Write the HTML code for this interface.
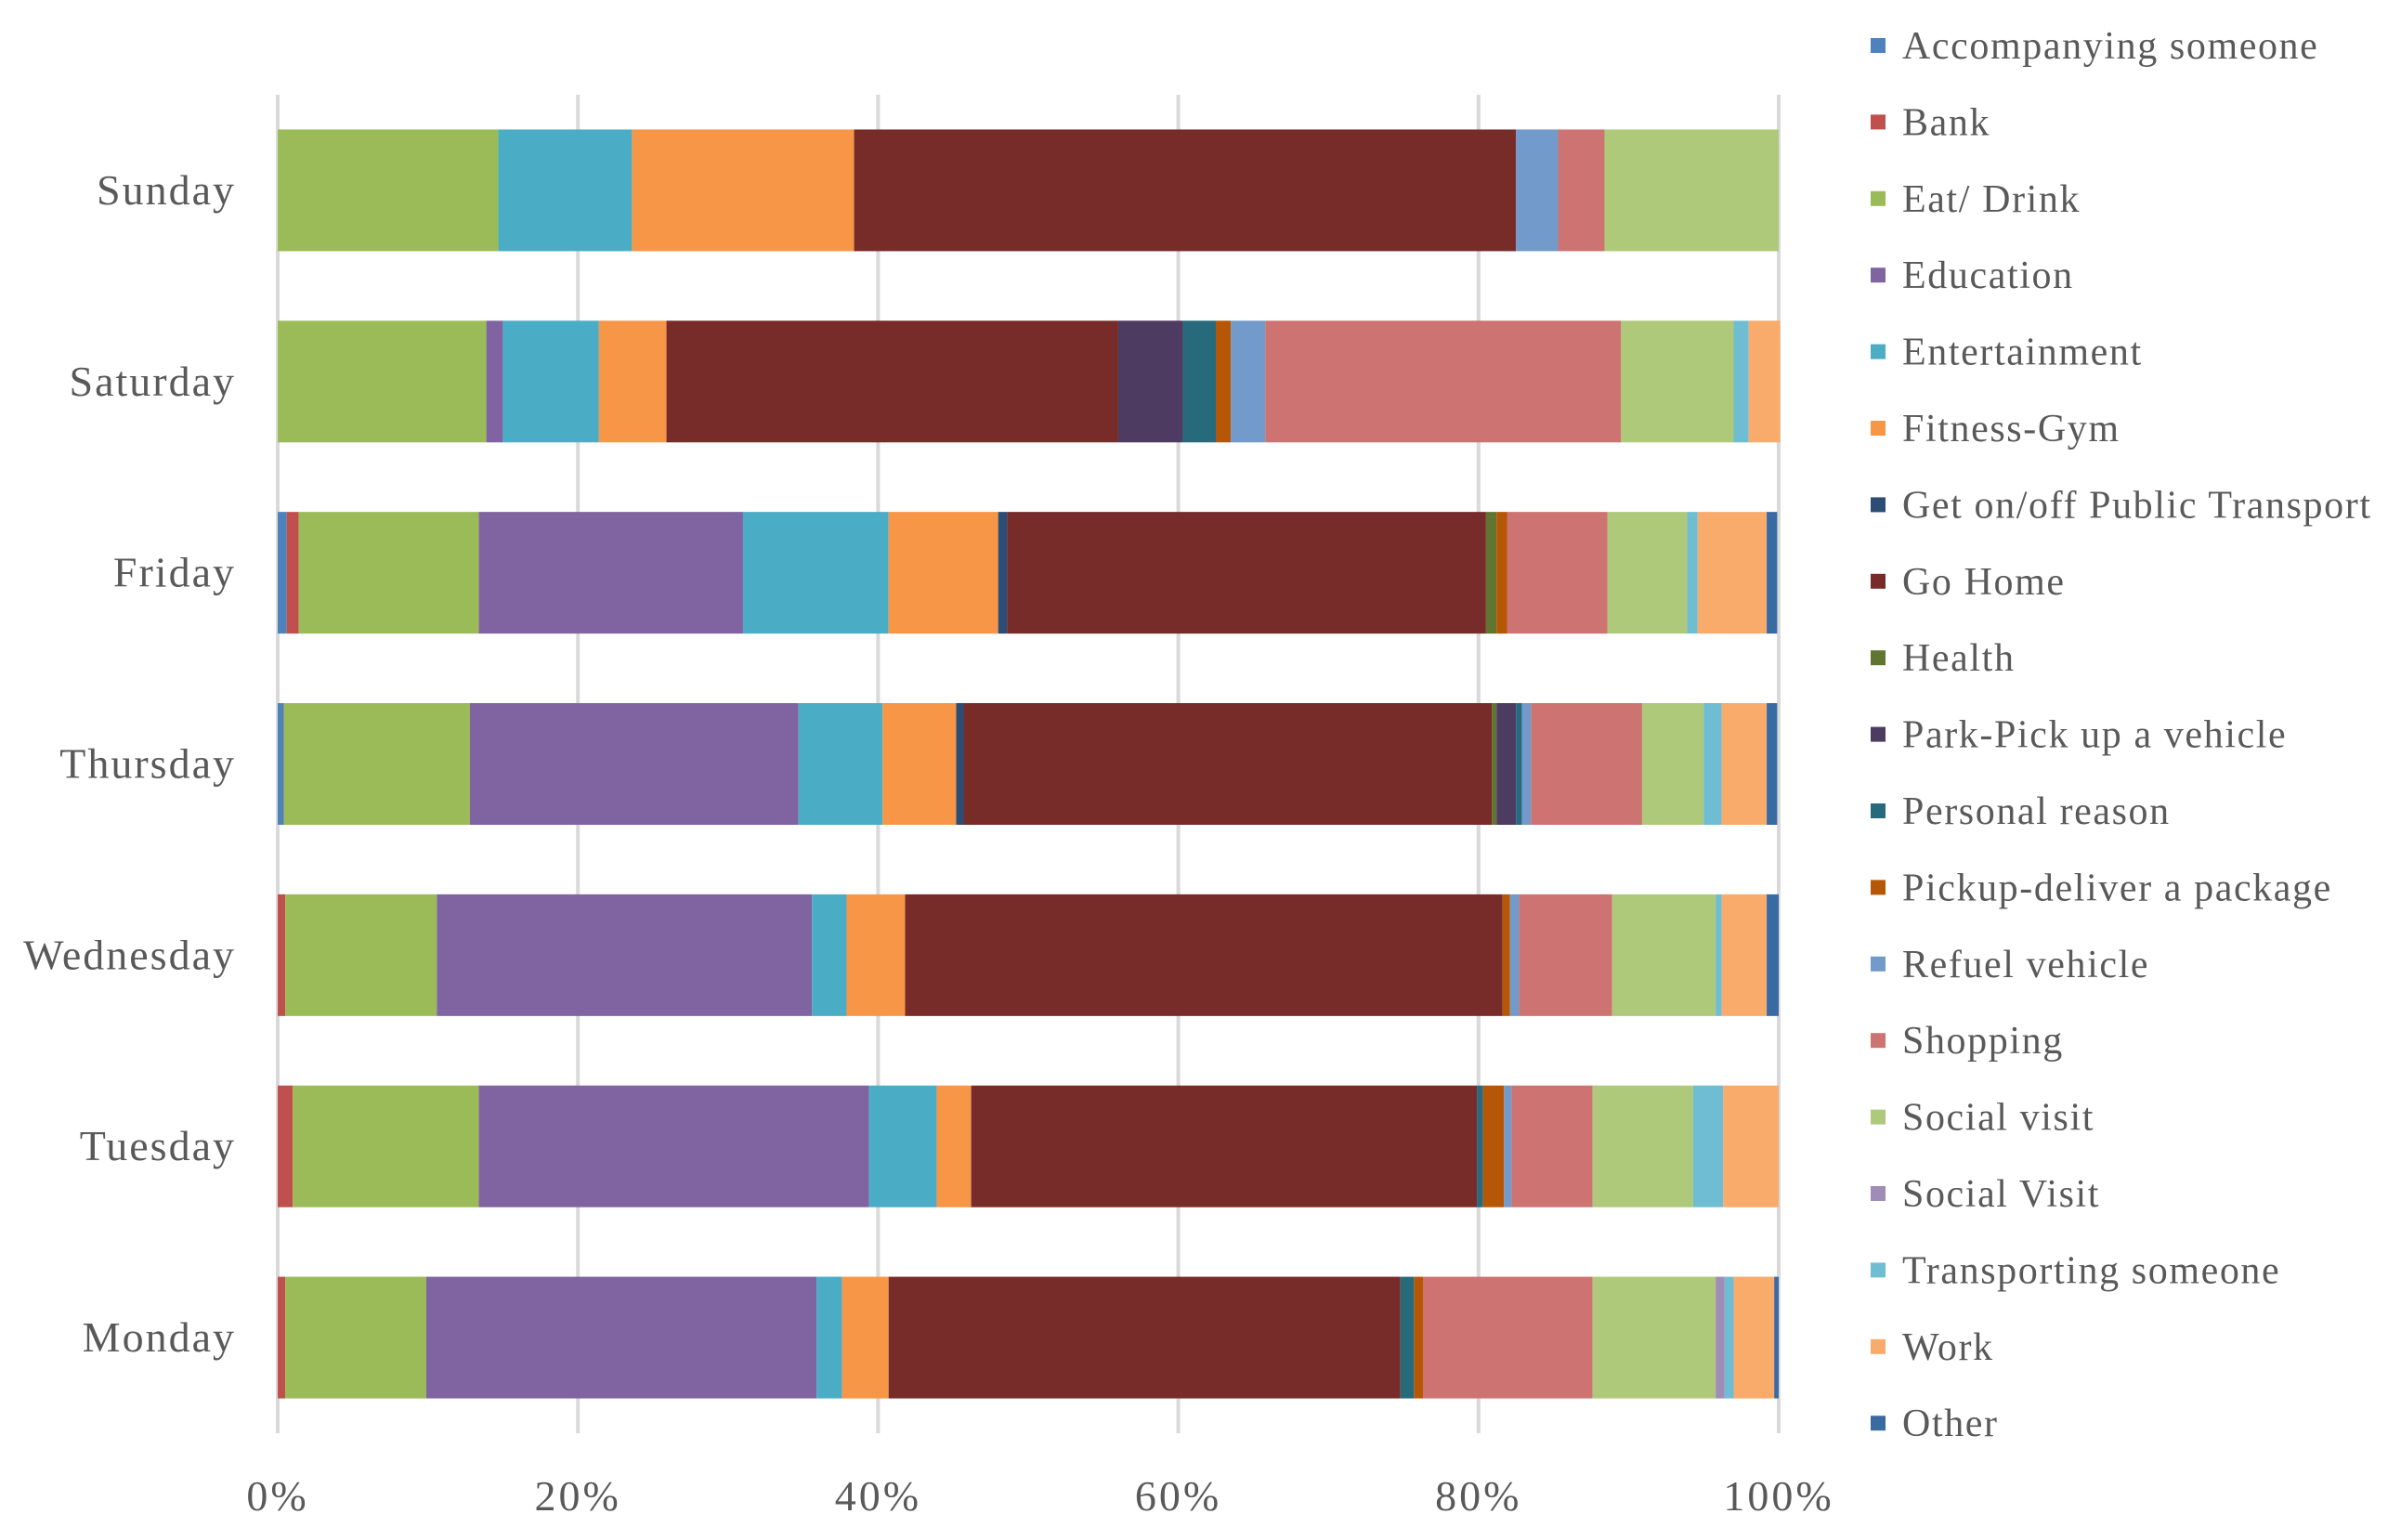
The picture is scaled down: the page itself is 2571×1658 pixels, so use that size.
<!DOCTYPE html>
<html><head><meta charset="utf-8"><style>
html,body{margin:0;padding:0;background:#fff;}
svg{display:block;font-family:"Liberation Serif",serif;}
</style></head><body>
<svg id="chart" width="2571" height="1658" viewBox="0 0 2571 1658" xmlns="http://www.w3.org/2000/svg">
<g id="grid"></g>
<g id="bars"></g>
<g id="xaxis"></g>
<g id="yaxis"></g>
<g id="legend"></g>
</svg>
<script>
const days = ["Sunday","Saturday","Friday","Thursday","Wednesday","Tuesday","Monday"];
const seriesNames = ["Accompanying someone","Bank","Eat/ Drink","Education","Entertainment","Fitness-Gym","Get on/off Public Transport","Go Home","Health","Park-Pick up a vehicle","Personal reason","Pickup-deliver a package","Refuel vehicle","Shopping","Social visit","Social Visit","Transporting someone","Work","Other"];
const seriesColors = ["#4F81BD","#C0504D","#9BBB59","#8064A2","#4BACC6","#F79646","#2C4D75","#772C2A","#5F7530","#4D3B62","#276A7C","#B65708","#729ACA","#CD7371","#AFC97A","#A08DB7","#6FBDD2","#F9AB6B","#3A6AA2"];
// values per day, in series order
const sunday    = [0,0,14.7,0,8.9,14.8,0,44.1,0,0,0,0,2.8,3.1,11.6,0,0,0,0];
const saturday  = [0,0,13.9,1.1,6.4,4.5,0,30.1,0,4.3,2.2,1.0,2.3,23.7,7.5,0,1.0,2.1,0];
const friday    = [0.6,0.8,12.0,17.6,9.7,7.3,0.6,31.9,0.7,0,0,0.7,0,6.7,5.3,0,0.7,4.6,0.7];
const thursday  = [0.4,0,12.4,21.9,5.6,4.9,0.5,35.2,0.3,1.3,0.4,0,0.6,7.4,4.1,0,1.2,3.0,0.7];
const wednesday = [0,0.5,10.1,25.0,2.3,3.9,0,39.8,0,0,0,0.5,0.6,6.2,6.9,0,0.4,3.0,0.8];
const tuesday   = [0,1.0,12.4,26.0,4.5,2.3,0,33.7,0,0,0.4,1.4,0.5,5.4,6.7,0,2.0,3.7,0];
const monday    = [0,0.5,9.4,26.0,1.7,3.1,0,34.1,0,0,0.9,0.6,0,11.3,8.2,0.6,0.6,2.7,0.3];
const dayValues = [sunday,saturday,friday,thursday,wednesday,tuesday,monday];
const xTicks = [0,20,40,60,80,100];
const xTickLabels = ["0%","20%","40%","60%","80%","100%"];

const NS="http://www.w3.org/2000/svg";
const L=299,R=1915,T=102,B=1543;
const band=(B-T)/days.length, barH=131;
const xs=v=>L+(R-L)*v/100;
const yc=i=>T+band*(i+0.5);
function mk(tag,attrs,parent){const e=document.createElementNS(NS,tag);for(const k in attrs)e.setAttribute(k,attrs[k]);parent.appendChild(e);return e;}

const grid=document.getElementById('grid');
xTicks.forEach((t,i)=>{
  const l=mk('line',{x1:xs(t),x2:xs(t),y1:T,y2:B,stroke:'#D9D9D9','stroke-width':4},grid);
  
  
});
const xa=document.getElementById('xaxis');
xTicks.forEach((t,i)=>{
  const tx=mk('text',{x:xs(t),y:1626,'text-anchor':'middle','font-size':46,'letter-spacing':3,fill:'#595959'},xa);
  tx.textContent=xTickLabels[i];
  
  
});
const bars=document.getElementById('bars');
const ya=document.getElementById('yaxis');
days.forEach((d,i)=>{
  let acc=0;
  dayValues[i].forEach((v,s)=>{
    if(v<=0)return;
    const r=mk('rect',{x:xs(acc),y:yc(i)-barH/2,width:xs(acc+v)-xs(acc),height:barH,fill:seriesColors[s]},bars);
    
    
    acc+=v;
  });
  const tx=mk('text',{x:254,y:yc(i)+15,'text-anchor':'end','font-size':46,'letter-spacing':2,fill:'#595959'},ya);
  tx.textContent=d;
  
  
});
const lg=document.getElementById('legend');
seriesNames.forEach((n,s)=>{
  const y=49+82.4*s;
  const g=mk('g',{},lg);
  
  
  const r=mk('rect',{x:2014,y:y-8,width:16,height:16,fill:seriesColors[s]},g);
  
  
  const t=mk('text',{x:2048,y:y+14,'font-size':42,'letter-spacing':1.6,fill:'#595959'},g);
  t.textContent=n;
  
  
});
</script>
</body></html>
